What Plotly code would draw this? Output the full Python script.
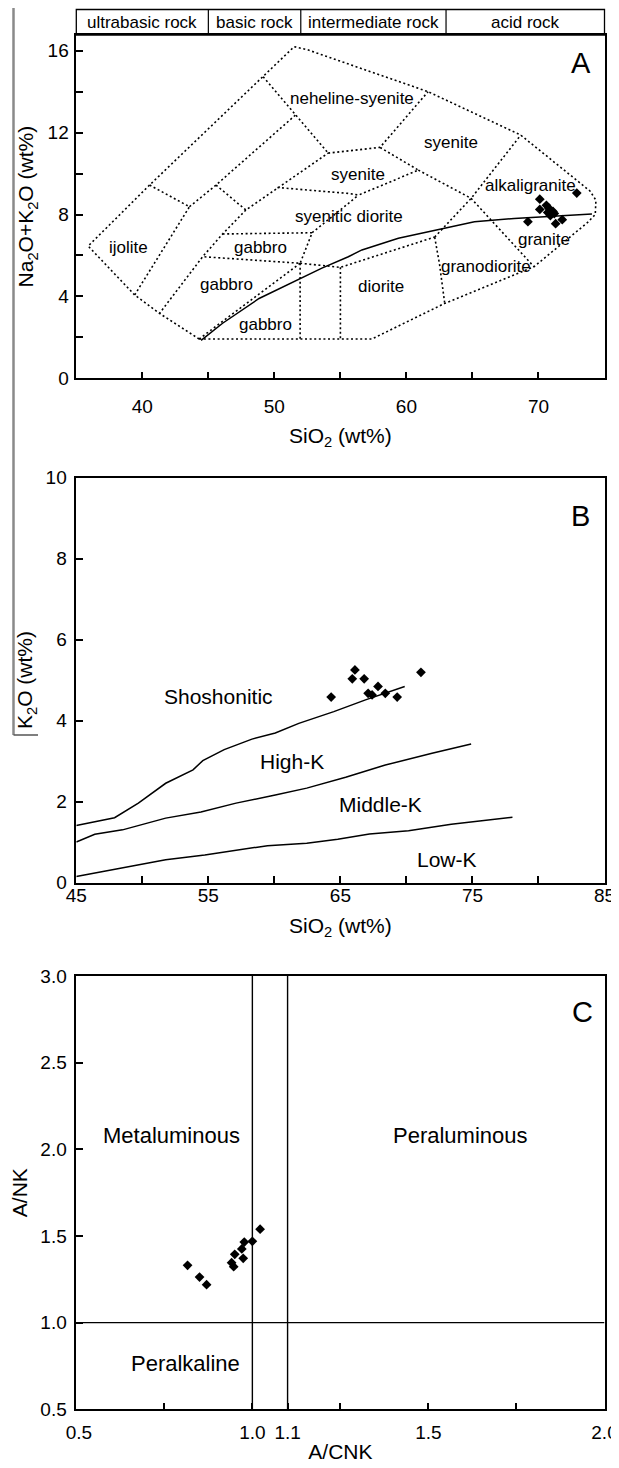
import plotly.graph_objects as go

W, H = 619, 1468
OFF = 8  # the page body adds an 8 px margin; the figure is shrunk to fit the window
FW, FH = W - OFF, H - OFF
FONT = "Liberation Sans, Arial, sans-serif"
NB = "\u00a0"

# ---------------- Panel A : TAS diagram ----------------
header_bounds = [35, 45, 52, 63, 75]
header_labels = ["ultrabasic rock", "basic rock", "intermediate rock", "acid rock"]

outer_x = [44.3, 41.3, 39.42, 35.9, 40.55, 49.15, 51.5, 52.5, 61.64, 68.66, 73.9, 74.35, 74.3, 73.7, 69.66, 62.9, 57.38, 44.3]
outer_y = [1.92, 3.17, 4.07, 6.46, 9.44, 14.73, 16.2, 16.05, 14.0, 11.88, 9.15, 8.7, 8.0, 7.6, 5.45, 3.66, 1.92, 1.92]

b1_x = [49.15, 51.6, 54.07]; b1_y = [14.73, 12.86, 11.0]
b2_x = [54.07, 58.0, 61.64]; b2_y = [11.0, 11.28, 14.0]
b3_x = [40.55, 43.57, 39.42]; b3_y = [9.44, 8.38, 4.07]
b4_x = [43.57, 45.58, 51.6]; b4_y = [8.38, 9.44, 12.86]
b5_x = [45.58, 47.84, 54.07]; b5_y = [9.44, 8.22, 11.0]
b6_x = [47.84, 46.08, 44.57, 41.3]; b6_y = [8.22, 7.05, 5.94, 3.17]
b7_x = [50.23, 55.63, 56.38, 60.9, 58.0]; b7_y = [9.32, 9.03, 8.95, 10.17, 11.28]
b8_x = [60.9, 64.9, 69.66]; b8_y = [10.17, 8.79, 5.45]
b9_x = [62.14, 64.9, 68.66]; b9_y = [6.9, 8.79, 11.88]
b10_x = [62.14, 62.5, 62.9]; b10_y = [6.9, 5.6, 3.66]
b11_x = [46.08, 52.86, 51.95, 44.57]; b11_y = [7.05, 7.11, 5.62, 5.94]
b12_x = [51.95, 55.0, 62.14]; b12_y = [5.62, 5.42, 6.9]
b13_x = [44.3, 51.95]; b13_y = [1.92, 5.62]
b14_x = [51.95, 51.95]; b14_y = [5.62, 1.92]
b15_x = [55.0, 55.0]; b15_y = [5.42, 1.92]
b16_x = [52.86, 55.63, 56.38]; b16_y = [7.11, 8.55, 8.95]

ib_x = [44.45, 46.08, 48.84, 51.86, 53.6, 55.6, 56.63, 59.39, 62.4, 65.15, 68.16, 71.67, 74.05]
ib_y = [1.85, 2.69, 3.9, 4.83, 5.38, 5.94, 6.27, 6.84, 7.28, 7.65, 7.81, 7.93, 8.02]

a_sio2 = [70.1, 72.9, 70.6, 70.1, 70.8, 71.1, 70.9, 71.2, 70.7, 69.2, 71.3, 71.8]
a_alk = [8.75, 9.05, 8.45, 8.25, 8.3, 8.15, 7.95, 8.05, 8.1, 7.65, 7.55, 7.75]

a_field_names = ["ijolite", "gabbro", "gabbro", "gabbro", "syenitic diorite", "neheline-syenite",
                 "syenite", "syenite", "alkaligranite", "granite", "granodiorite", "diorite"]
a_field_x = [38.92, 48.97, 46.4, 49.3, 55.68, 55.9, 56.33, 63.4, 69.39, 70.44, 66.05, 58.08]
a_field_y = [6.4, 6.4, 4.6, 2.65, 7.89, 13.67, 9.98, 11.52, 9.44, 6.8, 5.48, 4.48]

# ---------------- Panel B : SiO2 - K2O ----------------
shosh_x = [45, 47.9, 49.7, 51.77, 53.84, 54.58, 56.2, 58.3, 60.07, 61.85, 64.5, 66.9, 69.87]
shosh_y = [1.41, 1.6, 1.96, 2.45, 2.78, 3.01, 3.28, 3.54, 3.69, 3.93, 4.22, 4.51, 4.84]
highk_x = [45, 46.4, 48.5, 51.77, 54.44, 57.1, 60.07, 62.45, 65.4, 68.4, 71.94, 74.9]
highk_y = [1.0, 1.19, 1.3, 1.59, 1.74, 1.96, 2.16, 2.33, 2.6, 2.9, 3.19, 3.42]
midk_x = [45, 48.2, 51.77, 54.73, 57.1, 59.48, 62.45, 64.8, 67.2, 70.16, 73.4, 76.1, 78.03]
midk_y = [0.15, 0.35, 0.56, 0.68, 0.79, 0.91, 0.97, 1.07, 1.2, 1.28, 1.44, 1.55, 1.61]

b_sio2 = [64.3, 65.9, 66.1, 66.8, 67.1, 67.4, 67.85, 68.4, 69.3, 71.1]
b_k2o = [4.58, 5.03, 5.25, 5.03, 4.67, 4.63, 4.84, 4.67, 4.58, 5.19]

b_xticks = [45, 55, 65, 75, 85]

b_field_names = ["Shoshonitic", "High-K", "Middle-K", "Low-K"]
b_field_x = [55.8, 61.3, 68.0, 73.1]
b_field_y = [4.6, 2.99, 1.92, 0.58]

# ---------------- Panel C : A/CNK - A/NK ----------------
c_acnk = [0.816, 0.850, 0.870, 0.941, 0.947, 0.950, 0.970, 0.974, 0.977, 1.0, 1.022]
c_ank = [1.331, 1.263, 1.219, 1.346, 1.323, 1.394, 1.425, 1.371, 1.465, 1.469, 1.539]
c_vlines = [1.0, 1.1]
c_hline = 1.0
c_field_names = ["Metaluminous", "Peraluminous", "Peralkaline"]
c_field_x = [0.769, 1.59, 0.809]
c_field_y = [2.08, 2.08, 0.767]
c_xticks = [0.5, 1.0, 1.1, 1.5, 2.0]
c_xticklabels = [NB + "0.5", "1.0", "1.1", "1.5", "2.0"]

# ---------------- figure ----------------
fig = go.Figure()
DOT = "2px,2.6px"


def dotted(xs, ys, ax="x", ay="y"):
    fig.add_trace(go.Scatter(x=xs, y=ys, mode="lines", xaxis=ax, yaxis=ay,
                             line=dict(color="black", width=1.6, dash=DOT),
                             hoverinfo="skip", showlegend=False))


def solid(xs, ys, ax, ay, w=1.5):
    fig.add_trace(go.Scatter(x=xs, y=ys, mode="lines", xaxis=ax, yaxis=ay,
                             line=dict(color="black", width=w),
                             hoverinfo="skip", showlegend=False))


def points(xs, ys, ax, ay):
    fig.add_trace(go.Scatter(x=xs, y=ys, mode="markers", xaxis=ax, yaxis=ay,
                             marker=dict(symbol="diamond", size=7.5, color="black"),
                             showlegend=False))


for xs, ys in [(outer_x, outer_y), (b1_x, b1_y), (b2_x, b2_y), (b3_x, b3_y), (b4_x, b4_y),
               (b5_x, b5_y), (b6_x, b6_y), (b7_x, b7_y), (b8_x, b8_y), (b9_x, b9_y),
               (b10_x, b10_y), (b11_x, b11_y), (b12_x, b12_y), (b13_x, b13_y),
               (b14_x, b14_y), (b15_x, b15_y), (b16_x, b16_y)]:
    dotted(xs, ys)
solid(ib_x, ib_y, "x", "y")
points(a_sio2, a_alk, "x", "y")

solid(shosh_x, shosh_y, "x2", "y2")
solid(highk_x, highk_y, "x2", "y2")
solid(midk_x, midk_y, "x2", "y2")
points(b_sio2, b_k2o, "x2", "y2")

for v in c_vlines:
    solid([v, v], [0.5, 3.0], "x3", "y3", 1.4)
solid([0.5, 2.0], [c_hline, c_hline], "x3", "y3", 1.4)
points(c_acnk, c_ank, "x3", "y3")


def px(p):
    return (p - OFF) / FW


def pdom(top, bottom):
    return [1 - (bottom - OFF) / FH, 1 - (top - OFF) / FH]


XD = [px(76.3), px(604.5)]
A_TOP, A_BOT = 35, 378.3
B_TOP, B_BOT = 477.5, 882.5
C_TOP, C_BOT = 976, 1409.3

tickfont = dict(family=FONT, size=19, color="black")
titlefont = dict(family=FONT, size=21, color="black")


def axis(**kw):
    d = dict(showline=True, linecolor="black", linewidth=1.5, mirror=True,
             ticks="inside", ticklen=7, tickwidth=1.5, tickcolor="black",
             showgrid=False, zeroline=False, tickfont=tickfont, automargin=False,
             fixedrange=True)
    d.update(kw)
    return d


def minor(**kw):
    return dict(ticks="inside", ticklen=7, tickwidth=1.5, tickcolor="black", showgrid=False, **kw)


fig.update_layout(
    width=FW, height=FH, margin=dict(l=0, r=0, t=0, b=0),
    paper_bgcolor="white", plot_bgcolor="white", template="none",
    font=dict(family=FONT, color="black"),
    xaxis=axis(domain=XD, range=[35, 75], tickmode="array", tickvals=[40, 50, 60, 70],
               minor=minor(dtick=5), ticklabelstandoff=10, anchor="y",
               title=dict(text="SiO<sub>2</sub> (wt%)", font=titlefont, standoff=12)),
    yaxis=axis(domain=pdom(A_TOP, A_BOT), range=[0, 16.77],
               tickmode="array", tickvals=[0, 4, 8, 12, 16], minor=minor(dtick=2),
               ticklabelstandoff=2, anchor="x",
               title=dict(text="Na<sub>2</sub>O+K<sub>2</sub>O (wt%)", font=titlefont, standoff=8)),
    xaxis2=axis(domain=XD, range=[45, 85], tickmode="array", tickvals=b_xticks,
                minor=minor(dtick=5), ticklabelstandoff=-5, anchor="y2",
                ticklabeloverflow="allow",
                title=dict(text="SiO<sub>2</sub> (wt%)", font=titlefont, standoff=13)),
    yaxis2=axis(domain=pdom(B_TOP, B_BOT), range=[0, 10], dtick=2, ticklabelstandoff=4,
                anchor="x2",
                title=dict(text="K<sub>2</sub>O (wt%)", font=titlefont, standoff=7)),
    xaxis3=axis(domain=XD, range=[0.5, 2.0], tickmode="array", tickvals=c_xticks,
                ticktext=c_xticklabels, minor=minor(tickmode="array", tickvals=[0.75, 1.25, 1.75]),
                ticklabelstandoff=5, anchor="y3", ticklabeloverflow="allow",
                title=dict(text="A/CNK", font=titlefont, standoff=2)),
    yaxis3=axis(domain=pdom(C_TOP, C_BOT), range=[0.5, 3.0], dtick=0.5, tickformat=".1f",
                ticklabelstandoff=4, anchor="x3",
                title=dict(text="A/NK", font=titlefont, standoff=9)),
)

# header band above panel A
hdr_top = 1 + (A_TOP - 9.5) / (A_BOT - A_TOP)
shapes = [dict(type="rect", xref="x domain", yref="y domain", x0=0, x1=1, y0=1, y1=hdr_top,
               line=dict(color="black", width=1.3))]
for bnd in header_bounds[1:-1]:
    shapes.append(dict(type="line", xref="x", yref="y domain", x0=bnd, x1=bnd, y0=1, y1=hdr_top,
                       line=dict(color="black", width=1.2)))
# scan artefact at left edge of the original figure
shapes.append(dict(type="line", xref="paper", yref="paper", x0=px(13.5), x1=px(13.5), y0=1,
                   y1=1 - (735 - OFF) / FH, line=dict(color="#8a8a8a", width=2.5)))
shapes.append(dict(type="line", xref="paper", yref="paper", x0=px(13.5), x1=px(38),
                   y0=1 - (735 - OFF) / FH, y1=1 - (735 - OFF) / FH, line=dict(color="#555555", width=1.5)))

ann = []


def label(text, xr, yr, x, y, size):
    ann.append(dict(text=text, xref=xr, yref=yr, x=x, y=y, showarrow=False,
                    xanchor="center", yanchor="middle",
                    font=dict(family=FONT, size=size, color="black")))


for i, lab in enumerate(header_labels):
    label(lab, "x", "y domain", (header_bounds[i] + header_bounds[i + 1]) / 2, (1 + hdr_top) / 2, 17)
for t, x, y in zip(a_field_names, a_field_x, a_field_y):
    label(t, "x", "y", x, y, 17)
label("A", "x", "y", 73.2, 15.38, 29)
for t, x, y in zip(b_field_names, b_field_x, b_field_y):
    label(t, "x2", "y2", x, y, 21)
label("B", "x2", "y2", 83.2, 9.04, 29)
for t, x, y in zip(c_field_names, c_field_x, c_field_y):
    label(t, "x3", "y3", x, y, 22)
label("C", "x3", "y3", 1.937, 2.79, 29)

fig.update_layout(shapes=shapes, annotations=ann)
fig.write_html("out.html")
